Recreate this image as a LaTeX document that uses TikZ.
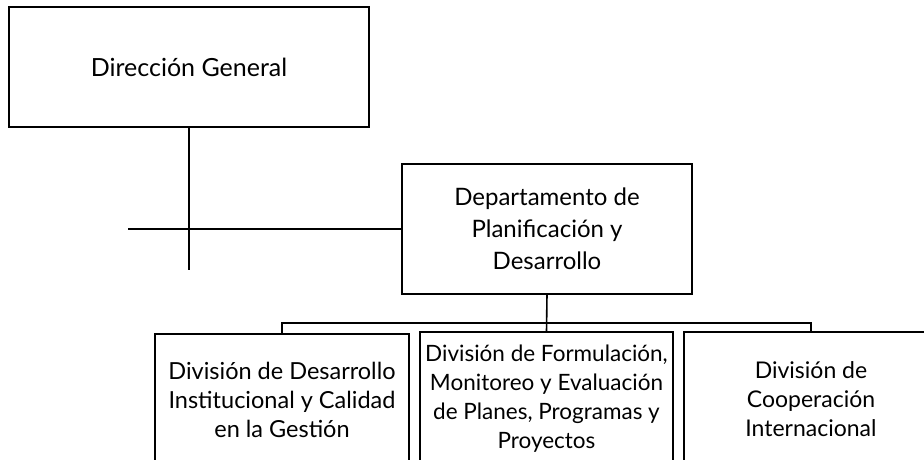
\documentclass[tikz,border=0pt]{standalone}
\usepackage{fontspec}
\setmainfont{Lato}
\usepackage{tikz}

\begin{document}
\begin{tikzpicture}[x=1pt,y=-1pt,line width=1.6pt,
    unit/.style={draw,inner sep=0pt,outer sep=0pt,align=center,font=\fontsize{23}{29}\selectfont},
    topunit/.style={unit,minimum width=360pt,minimum height=120pt,font=\fontsize{25}{29}\selectfont},
    deptunit/.style={unit,minimum width=290pt,minimum height=130pt,font=\fontsize{24}{32}\selectfont},
    divunit/.style={unit,minimum width=254pt,minimum height=134pt}]
  \clip (0,0) rectangle (924,460);

  \node [topunit] (dg) at (189,67) {Dirección General};
  \node [deptunit] (dpd) at (547,229) {Departamento de\\Planificación y\\Desarrollo};

  \node [divunit,minimum height=132pt,font=\fontsize{23.5}{29}\selectfont] (ddi) at (282,400) {División de Desarrollo\\Institucional y Calidad\\en la Gestión};
  \node [divunit,minimum width=253pt,font=\fontsize{22.5}{29}\selectfont] (dfm) at (546.5,399) {División de Formulación,\\Monitoreo y Evaluación\\de Planes, Programas y\\Proyectos};
  \node [divunit] (dci) at (811,399) {División de\\Cooperación\\Internacional};

  \coordinate (dgend) at (189,270);
  \coordinate (stafend) at (128,229);
  \coordinate (bus) at (547,323);

  \draw (dg.south) -- (dgend);
  \draw (stafend) -- (dpd.west);
  \draw (dpd.south) -- (dfm.north);
  \draw (ddi.north) |- (bus) -| (dci.north);
\end{tikzpicture}
\end{document}
